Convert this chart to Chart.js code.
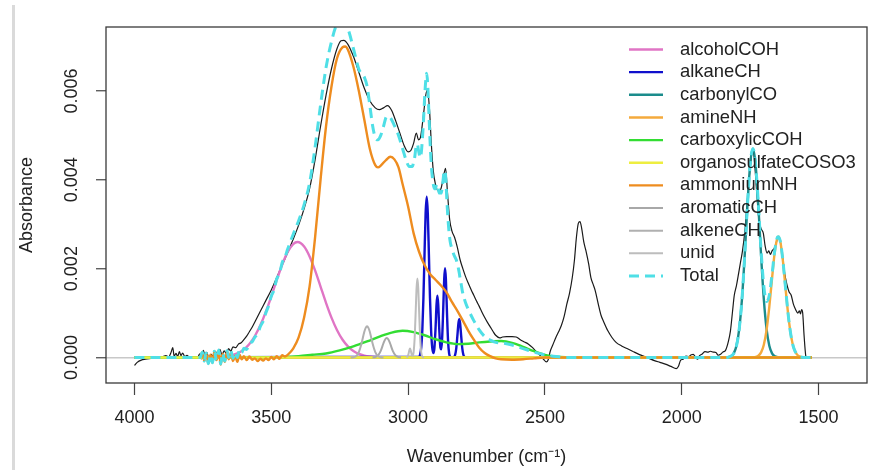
<!DOCTYPE html>
<html>
<head>
<meta charset="utf-8">
<script src="https://cdn.jsdelivr.net/npm/chart.js@4.4.1/dist/chart.umd.min.js"></script>
<style>
    body { margin: 0; background: #fff; }
    #wrap { position: relative; width: 877px; height: 470px; }
    #strip { position: absolute; left: 12px; top: 5px; width: 3px; height: 465px; background: #dadada; }
    #spectrum { position: absolute; left: 0; top: 0; }
</style>
</head>
<body>
<div id="wrap"><div id="strip"></div><canvas id="spectrum" width="877" height="470"></canvas></div>
<script>
// ---------------------------------------------------------------------------- data
const xTicks = [4000, 3500, 3000, 2500, 2000, 1500];
const yTicks = [0, 0.002, 0.004, 0.006];

// measured spectrum (black line)
const measuredWn = [
    4000, 3990, 3975, 3960, 3940, 3920, 3900, 3885, 3875, 3866,
    3860, 3855, 3848, 3842, 3836, 3830, 3824, 3816, 3808, 3800,
    3790, 3780, 3770, 3762, 3756, 3748, 3742, 3735, 3728, 3720,
    3712, 3704, 3696, 3688, 3680, 3672, 3664, 3656, 3648, 3640,
    3630, 3620, 3610, 3600, 3590, 3580, 3570, 3560, 3540, 3520,
    3500, 3480, 3460, 3440, 3420, 3400, 3380, 3360, 3340, 3320,
    3300, 3280, 3260, 3245, 3235, 3220, 3200, 3180, 3160, 3140,
    3120, 3105, 3090, 3075, 3060, 3045, 3030, 3015, 3000, 2990,
    2980, 2970, 2962, 2955, 2945, 2935, 2929, 2922, 2915, 2908,
    2900, 2890, 2880, 2870, 2863, 2856, 2848, 2840, 2830, 2820,
    2810, 2800, 2790, 2780, 2770, 2760, 2750, 2740, 2730, 2720,
    2710, 2700, 2690, 2680, 2665, 2655, 2640, 2620, 2605, 2590,
    2575, 2560, 2545, 2530, 2518, 2505, 2495, 2488, 2480, 2470,
    2460, 2450, 2440, 2430, 2420, 2410, 2400, 2392, 2385, 2378,
    2372, 2366, 2358, 2350, 2340, 2332, 2324, 2316, 2305, 2295,
    2285, 2270, 2255, 2240, 2220, 2200, 2180, 2160, 2140, 2120,
    2100, 2080, 2060, 2040, 2020, 2012, 2004, 1995, 1985, 1975,
    1965, 1958, 1950, 1942, 1935, 1925, 1915, 1905, 1895, 1885,
    1875, 1867, 1858, 1850, 1840, 1830, 1822, 1815, 1808, 1800,
    1792, 1785, 1778, 1770, 1762, 1754, 1746, 1740, 1734, 1726,
    1718, 1710, 1702, 1695, 1688, 1682, 1676, 1670, 1662, 1654,
    1647, 1640, 1632, 1624, 1616, 1608, 1600, 1592, 1584, 1576,
    1570, 1566, 1562, 1558, 1553, 1548, 1546
];
const measuredAbs = [
    -0.00018, -0.00011, -0.00006, -0.00004, -0.00002, 0, 0.00001, 0.00004, 0.00001, 0.00012,
    0.00022, 0.00003, 0.00009, 0.00002, 0.00013, 0.00004, 0.0001, 0.00002, 0.00005, 0.00001,
    0.00002, 0, -0.00002, 0.00008, -0.00003, 0.00016, 0.00002, 0.00011, -0.00004, 0.00007,
    0.00002, 0.00014, 0.00004, 0.00018, 0.00006, 0.00015, 0.00009, 0.0002, 0.00014, 0.00024,
    0.00022, 0.0003, 0.00033, 0.0004, 0.00048, 0.00058, 0.00068, 0.0008, 0.00104, 0.00128,
    0.00152, 0.0018, 0.00208, 0.00236, 0.00266, 0.00298, 0.00335, 0.0038, 0.00445, 0.0052,
    0.0059, 0.0065, 0.00695, 0.00713, 0.00714, 0.00705, 0.00678, 0.00642, 0.00606, 0.00578,
    0.00562, 0.00558, 0.00562, 0.00567, 0.00556, 0.00532, 0.00505, 0.00478, 0.00463, 0.00466,
    0.00482, 0.00505, 0.0049, 0.00495, 0.0054, 0.00592, 0.00602, 0.0056, 0.0048, 0.0042,
    0.0039, 0.00375, 0.0038, 0.0041, 0.00426, 0.0037, 0.0031, 0.00285, 0.0027, 0.00248,
    0.0022, 0.002, 0.00182, 0.00167, 0.00153, 0.0014, 0.00127, 0.00115, 0.00102, 0.0009,
    0.00079, 0.00069, 0.00059, 0.0005, 0.00044, 0.00046, 0.00047, 0.00047, 0.00046, 0.0004,
    0.00035, 0.0003, 0.00022, 0.00012, 0.00005, -0.00004, -0.0001, -0.00005, 0.00015, 0.0003,
    0.00045, 0.00058, 0.00072, 0.00092, 0.0012, 0.00145, 0.0018, 0.0022, 0.0027, 0.00302,
    0.00306, 0.00292, 0.0026, 0.0024, 0.0021, 0.0018, 0.00165, 0.0015, 0.0012, 0.00095,
    0.0008, 0.0006, 0.00045, 0.00034, 0.00026, 0.0002, 0.00014, 0.00008, 0.00003, -0.00002,
    -0.00007, -0.00011, -0.00015, -0.0002, -0.00025, -0.0002, -0.00006, -0.00004, 0.00003, 0.00002,
    0.00006, 0.00007, 0.00001, -0.00004, 0.00004, 0.00008, 0.00013, 0.00012, 0.00014, 0.00012,
    0.00011, 0.00005, 0.00007, 0.00012, 0.00016, 0.00035, 0.0006, 0.001, 0.0014, 0.00162,
    0.0019, 0.00215, 0.0024, 0.0028, 0.0034, 0.004, 0.0045, 0.0047, 0.0044, 0.0037,
    0.0031, 0.0029, 0.0028, 0.0025, 0.00235, 0.0024, 0.00232, 0.0024, 0.00246, 0.0026,
    0.00272, 0.0026, 0.0023, 0.0019, 0.00165, 0.00148, 0.0014, 0.0012, 0.00108, 0.001,
    0.00105, 0.00098, 0.00108, 0.001, 0.0005, 0.0001, 0
];

// fitted components
const alcoholWn = [
    4000, 3700, 3680, 3660, 3640, 3620, 3600, 3580, 3560, 3540,
    3520, 3500, 3480, 3460, 3440, 3420, 3404, 3380, 3360, 3340,
    3320, 3300, 3280, 3260, 3240, 3220, 3200, 3180, 3160, 3140,
    3120, 3100, 1525
];
const alcoholAbs = [
    0, 0.000005, 0.000013, 0.000028, 0.000055, 0.000103, 0.000182, 0.000305, 0.000483, 0.000723,
    0.001025, 0.001374, 0.001743, 0.002093, 0.002377, 0.002554, 0.0026, 0.002499, 0.002275, 0.001959,
    0.001596, 0.00123, 0.000897, 0.000619, 0.000404, 0.00025, 0.000146, 0.000081, 0.000042, 0.000021,
    0.00001, 0.000004, 0
];

const alkaneWn = [
    4000, 2960, 2956, 2952, 2948, 2944, 2940, 2936, 2932, 2928,
    2924, 2920, 2916, 2912, 2908, 2904, 2900, 2896, 2893, 2890,
    2886, 2882, 2879, 2876, 2872, 2868, 2865, 2862, 2858, 2854,
    2850, 2846, 2840, 2832, 2828, 2824, 2820, 2816, 2813, 2810,
    2806, 2802, 2798, 2794, 2788, 1525
];
const alkaneAbs = [
    0, 0.000016, 0.000067, 0.000227, 0.000617, 0.00134, 0.00232, 0.00324, 0.00362, 0.00324,
    0.00232, 0.00134, 0.000617, 0.00023, 0.0001, 0.0002, 0.00062, 0.0012, 0.00139, 0.0012,
    0.00062, 0.000224, 0.000186, 0.000386, 0.00102, 0.00177, 0.00201, 0.00177, 0.00102, 0.000374,
    0.000088, 0.000013, 0, 0.000012, 0.00006, 0.000205, 0.00048, 0.000774, 0.00086, 0.000774,
    0.00048, 0.000205, 0.00006, 0.000012, 0, 0
];

const carbonylWn = [
    4000, 1850, 1840, 1830, 1820, 1810, 1800, 1790, 1780, 1770,
    1760, 1750, 1740, 1730, 1720, 1710, 1700, 1690, 1680, 1670,
    1660, 1650, 1640, 1525
];
const carbonylAbs = [
    0, 0, 0, 0.000007, 0.000028, 0.000093, 0.000264, 0.000636, 0.001306, 0.002287,
    0.003414, 0.004338, 0.0047, 0.004338, 0.003414, 0.002287, 0.001306, 0.000636, 0.000264, 0.000093,
    0.000028, 0.000007, 0, 0
];

const amineWn = [
    4000, 1750, 1740, 1730, 1720, 1710, 1700, 1690, 1680, 1670,
    1660, 1650, 1647, 1640, 1630, 1620, 1610, 1600, 1590, 1580,
    1570, 1560, 1550, 1525
];
const amineAbs = [
    0, 0, 0.000003, 0.000011, 0.000038, 0.000114, 0.000288, 0.00062, 0.001138, 0.001782,
    0.002376, 0.0027, 0.00272, 0.002616, 0.00216, 0.001518, 0.00091, 0.000464, 0.000202, 0.000075,
    0.000024, 0.000006, 0, 0
];

const carboxylicWn = [
    4000, 3500, 3450, 3400, 3350, 3300, 3250, 3200, 3150, 3100,
    3060, 3020, 2980, 2940, 2900, 2860, 2820, 2780, 2740, 2700,
    2660, 2620, 2580, 2540, 2500, 2460, 2420, 2380, 1525
];
const carboxylicAbs = [
    0, 0, 0.00001, 0.00003, 0.00006, 0.00009, 0.00016, 0.00025, 0.00036, 0.00048,
    0.00056, 0.0006, 0.00057, 0.0005, 0.00041, 0.00034, 0.0003, 0.00031, 0.00034, 0.00036,
    0.00037, 0.00033, 0.00024, 0.00014, 0.00006, 0.00002, 0.000005, 0, 0
];

const organosulfateWn = [4000, 1525];
const organosulfateAbs = [0, 0];

const ammoniumWn = [
    3760, 3752, 3745, 3738, 3730, 3722, 3715, 3708, 3700, 3692,
    3685, 3678, 3670, 3662, 3655, 3648, 3640, 3632, 3624, 3616,
    3608, 3600, 3590, 3580, 3570, 3560, 3550, 3540, 3530, 3520,
    3510, 3500, 3490, 3480, 3470, 3460, 3450, 3440, 3420, 3400,
    3380, 3360, 3340, 3320, 3300, 3280, 3260, 3240, 3230, 3220,
    3200, 3180, 3160, 3140, 3120, 3110, 3100, 3080, 3065, 3050,
    3035, 3020, 3000, 2980, 2960, 2940, 2920, 2900, 2880, 2860,
    2840, 2820, 2800, 2780, 2760, 2740, 2720, 2700, 2680, 2660,
    2620, 2580, 2540, 2500, 1525
];
const ammoniumAbs = [
    0, 0.00012, -0.00008, 0.0001, -0.00014, 0.00006, -0.00012, 0.00014, -0.00006, 0.00016,
    -0.00016, 0.00008, -0.0001, 0.00012, -0.00004, 0.0001, -0.00008, 0.00004, -0.0001, 0.00006,
    -0.00004, 0.00003, -0.00006, 0.00002, -0.00005, -0.00002, -0.00008, -0.00003, -0.00007, -0.00002,
    -0.00006, 0.00001, -0.00004, 0.00003, -0.00003, 0.00005, 0.00002, 0.00006, 0.0002, 0.00045,
    0.0009, 0.0016, 0.0027, 0.004, 0.0052, 0.0061, 0.00673, 0.00698, 0.007, 0.00693,
    0.00655, 0.006, 0.00535, 0.0047, 0.00433, 0.00428, 0.00432, 0.00445, 0.00452, 0.00446,
    0.00428, 0.0039, 0.0034, 0.0028, 0.00238, 0.00208, 0.00188, 0.00175, 0.00162, 0.00147,
    0.00125, 0.00105, 0.00083, 0.0006, 0.0004, 0.00022, 0.0001, 0.00003, -0.00002, -0.00004,
    -0.00005, -0.00004, -0.00002, 0, 0
];

const aromaticWn = [3130, 3120, 3110, 3100, 3090, 3084, 3078, 3072, 3066, 3056, 3046, 3036, 3026];
const aromaticAbs = [0, 0.00001, 0.000045, 0.00015, 0.00032, 0.000406, 0.00044, 0.000406, 0.00032, 0.00015, 0.000045, 0.00001, 0];

const alkeneWn = [3210, 3200, 3190, 3180, 3170, 3160, 3155, 3150, 3145, 3140, 3130, 3120, 3110, 3100, 3090];
const alkeneAbs = [0, 0.000005, 0.00003, 0.00012, 0.00032, 0.00058, 0.000666, 0.0007, 0.000666, 0.00058, 0.00032, 0.00012, 0.00003, 0.000005, 0];

const unidWn = [3005, 2999, 2996, 2993, 2990, 2987, 2984, 2980, 2976, 2972, 2969, 2966, 2963, 2960, 2956, 2952, 2948, 2942];
const unidAbs = [0, 0.000065, 0.00015, 0.0002, 0.00015, 0.00007, 0.000036, 0.000117, 0.000444, 0.00108, 0.00157, 0.00178, 0.00157, 0.00108, 0.000444, 0.000117, 0.00002, 0];

const totalWn = [
    4000, 3950, 3900, 3850, 3800, 3760, 3752, 3745, 3738, 3730,
    3722, 3715, 3708, 3700, 3692, 3685, 3678, 3670, 3662, 3655,
    3648, 3640, 3632, 3624, 3616, 3608, 3600, 3590, 3580, 3570,
    3560, 3550, 3540, 3530, 3520, 3510, 3500, 3490, 3480, 3470,
    3460, 3450, 3440, 3420, 3400, 3380, 3360, 3340, 3320, 3300,
    3280, 3260, 3240, 3220, 3200, 3180, 3160, 3150, 3140, 3130,
    3120, 3110, 3100, 3090, 3078, 3065, 3050, 3035, 3020, 3005,
    2996, 2993, 2990, 2984, 2980, 2976, 2972, 2969, 2966, 2963,
    2960, 2956, 2952, 2948, 2944, 2940, 2936, 2932, 2928, 2924,
    2920, 2916, 2912, 2908, 2904, 2900, 2896, 2893, 2890, 2886,
    2882, 2879, 2876, 2872, 2868, 2865, 2862, 2858, 2854, 2850,
    2846, 2840, 2832, 2828, 2824, 2820, 2816, 2813, 2810, 2806,
    2802, 2798, 2790, 2780, 2760, 2740, 2720, 2700, 2680, 2660,
    2620, 2580, 2540, 2500, 2460, 2420, 1850, 1830, 1820, 1810,
    1800, 1790, 1780, 1770, 1760, 1750, 1740, 1730, 1720, 1710,
    1700, 1690, 1680, 1670, 1660, 1650, 1647, 1640, 1630, 1620,
    1610, 1600, 1590, 1580, 1570, 1560, 1550, 1525
];
const totalAbs = [
    0, 0, 0, 0, 0, 0, 0.00012, -0.00008, 0.0001, -0.00014,
    0.00006, -0.00012, 0.00014, -0.00006, 0.00017, -0.00015, 0.0001, -0.00008, 0.00015, 0,
    0.00015, -0.00002, 0.00012, 0, 0.00018, 0.00011, 0.00021, 0.00018, 0.00033, 0.00035,
    0.00046, 0.00052, 0.0007, 0.00081, 0.001, 0.00116, 0.00138, 0.00152, 0.00177, 0.00189,
    0.00214, 0.00226, 0.00244, 0.00277, 0.00308, 0.00344, 0.00393, 0.00473, 0.00568, 0.00652,
    0.00711, 0.0075, 0.00756, 0.0074, 0.00696, 0.00649, 0.00631, 0.00611, 0.00568, 0.00523,
    0.00495, 0.0049, 0.005, 0.0052, 0.00543, 0.0054, 0.00522, 0.005, 0.0047, 0.0044,
    0.0043, 0.0043, 0.0043, 0.0043, 0.0044, 0.0045, 0.0047, 0.0048, 0.0048, 0.0047,
    0.0046, 0.0045, 0.0046, 0.0049, 0.0053, 0.0058, 0.0062, 0.0064, 0.0061, 0.0055,
    0.0049, 0.0044, 0.0041, 0.0039, 0.0038, 0.0038, 0.0039, 0.0039, 0.0038, 0.0037,
    0.0037, 0.0037, 0.0038, 0.004, 0.0042, 0.0042, 0.004, 0.0035, 0.0031, 0.0028,
    0.0026, 0.00245, 0.0023, 0.00225, 0.0022, 0.0021, 0.002, 0.0019, 0.00178, 0.00165,
    0.0015, 0.0014, 0.00123, 0.00108, 0.00083, 0.00062, 0.00047, 0.00039, 0.00034, 0.00033,
    0.00028, 0.0002, 0.00012, 0.00006, 0.00002, 0, 0, 0.000007, 0.00003, 0.00009,
    0.00026, 0.00064, 0.00131, 0.00229, 0.00341, 0.00434, 0.0047, 0.00435, 0.00345, 0.0024,
    0.0016, 0.00126, 0.0014, 0.00187, 0.00241, 0.00271, 0.00272, 0.00262, 0.00216, 0.00152,
    0.00091, 0.00046, 0.0002, 0.00008, 0.00002, 0.000005, 0, 0
];

// ---------------------------------------------------------------------------- chart
const FONT = '"Liberation Sans", Arial, Helvetica, sans-serif';
Chart.defaults.font.family = FONT;
Chart.defaults.font.size = 18;
Chart.defaults.color = '#222';

const toPoints = (wn, abs) => wn.map((x, i) => ({x: x, y: abs[i]}));

const components = [
    {label: 'alcoholCOH',         wn: alcoholWn,       abs: alcoholAbs,       color: '#E075C5'},
    {label: 'alkaneCH',           wn: alkaneWn,        abs: alkaneAbs,        color: '#1010CC'},
    {label: 'carbonylCO',         wn: carbonylWn,      abs: carbonylAbs,      color: '#1B8C8C'},
    {label: 'amineNH',            wn: amineWn,         abs: amineAbs,         color: '#F4AA3C'},
    {label: 'carboxylicCOH',      wn: carboxylicWn,    abs: carboxylicAbs,    color: '#33DD33'},
    {label: 'organosulfateCOSO3', wn: organosulfateWn, abs: organosulfateAbs, color: '#EEEE40'},
    {label: 'ammoniumNH',         wn: ammoniumWn,      abs: ammoniumAbs,      color: '#EE8C1F'},
    {label: 'aromaticCH',         wn: aromaticWn,      abs: aromaticAbs,      color: '#A8A8A8', width: 2},
    {label: 'alkeneCH',           wn: alkeneWn,        abs: alkeneAbs,        color: '#B0B0B0', width: 2},
    {label: 'unid',               wn: unidWn,          abs: unidAbs,          color: '#BDBDBD', width: 2},
    {label: 'Total',              wn: totalWn,         abs: totalAbs,         color: '#4FDFE6', width: 3, dash: [10, 6]}
];

const datasets = [{
    label: 'measured',
    data: toPoints(measuredWn, measuredAbs),
    borderColor: '#1a1a1a',
    borderWidth: 1.2,
    order: 20,
    inLegend: false
}];
components.forEach((c, i) => {
    datasets.push({
        label: c.label,
        data: toPoints(c.wn, c.abs),
        borderColor: c.color,
        borderWidth: c.width || 2.4,
        borderDash: c.dash || [],
        order: components.length - i
    });
});

// box around the plot region, like R's box()
const boxPlugin = {
    id: 'plotBox',
    afterDraw(chart) {
        const {ctx, chartArea: a} = chart;
        ctx.save();
        ctx.strokeStyle = '#3a3a3a';
        ctx.lineWidth = 1.3;
        ctx.strokeRect(a.left, a.top, a.right - a.left, a.bottom - a.top);
        ctx.restore();
    }
};

// legend drawn inside the plot, no frame
const legendPlugin = {
    id: 'insetLegend',
    afterDraw(chart) {
        const ctx = chart.ctx;
        const items = chart.data.datasets.filter(d => d.inLegend !== false);
        ctx.save();
        ctx.font = '18.4px ' + FONT;
        ctx.textBaseline = 'middle';
        items.forEach((d, i) => {
            const y = 49.5 + i * 22.65;
            ctx.strokeStyle = d.borderColor;
            ctx.lineWidth = d.borderWidth;
            ctx.setLineDash(d.borderDash || []);
            ctx.beginPath();
            ctx.moveTo(629, y);
            ctx.lineTo(663, y);
            ctx.stroke();
            ctx.setLineDash([]);
            ctx.fillStyle = '#222';
            ctx.fillText(d.label, 680, y);
        });
        ctx.restore();
    }
};

new Chart(document.getElementById('spectrum'), {
    type: 'line',
    data: {datasets: datasets},
    options: {
        responsive: false,
        animation: false,
        devicePixelRatio: 1,
        layout: {padding: {left: 0, top: 27, right: 10, bottom: 0}},
        elements: {
            point: {radius: 0},
            line: {cubicInterpolationMode: 'monotone', fill: false}
        },
        plugins: {
            legend: {display: false},
            tooltip: {enabled: false}
        },
        scales: {
            x: {
                type: 'linear',
                reverse: true,
                min: 1323,
                max: 4104,
                afterBuildTicks: scale => { scale.ticks = xTicks.map(v => ({value: v})); },
                afterFit: scale => { scale.height = 87; },
                grid: {drawOnChartArea: false, drawTicks: true, tickLength: 12, tickColor: '#444', tickWidth: 1.2},
                border: {display: false},
                ticks: {autoSkip: false, maxRotation: 0, padding: 12, color: '#222', callback: v => String(v)},
                title: {display: true, text: 'Wavenumber (cm⁻¹)', color: '#222', padding: {top: 0, bottom: 2}}
            },
            y: {
                type: 'linear',
                min: -0.000575,
                max: 0.00744,
                afterBuildTicks: scale => { scale.ticks = yTicks.map(v => ({value: v})); },
                afterFit: scale => { scale.width = 106; },
                grid: {
                    drawOnChartArea: true,
                    color: c => (c.tick && c.tick.value === 0) ? '#c8c8c8' : 'rgba(0,0,0,0)',
                    lineWidth: 1.5,
                    tickLength: 10,
                    tickColor: '#444',
                    tickWidth: 1.2
                },
                border: {display: false},
                ticks: {
                    autoSkip: false,
                    minRotation: 90,
                    maxRotation: 90,
                    crossAlign: 'center',
                    padding: 1,
                    color: '#222',
                    callback: v => v.toFixed(3)
                },
                title: {display: true, text: 'Absorbance', color: '#222', padding: {top: 16, bottom: 0}}
            }
        }
    },
    plugins: [boxPlugin, legendPlugin]
});
</script>
</body>
</html>
